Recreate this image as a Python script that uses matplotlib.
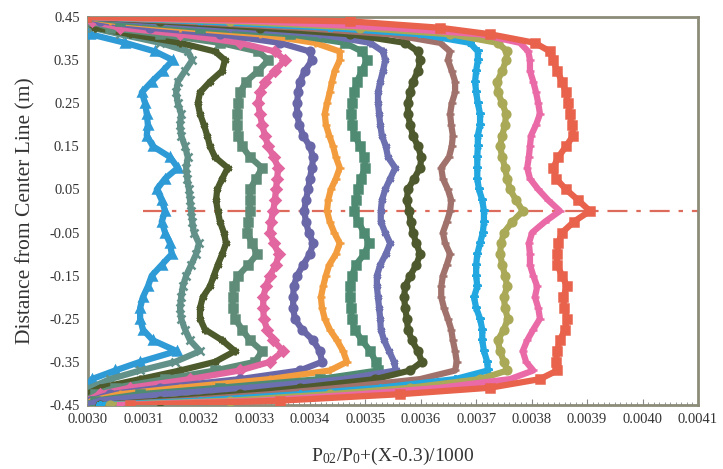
import matplotlib
matplotlib.use('Agg')
import matplotlib.pyplot as plt
import numpy as np

plt.rcParams['font.family'] = ['Liberation Serif', 'DejaVu Serif']
plt.rcParams['mathtext.fontset'] = 'custom'
plt.rcParams['mathtext.rm'] = 'Liberation Serif'
plt.rcParams['mathtext.it'] = 'Liberation Serif'

# measurement positions (m), shared by all traverses
y_pos = [0.45, 0.44, 0.425, 0.41, 0.39, 0.37,
         0.35, 0.325, 0.30, 0.275, 0.25, 0.225, 0.20, 0.175, 0.15, 0.125, 0.10, 0.075, 0.05, 0.025,
         0.0, -0.025, -0.05, -0.075, -0.10, -0.125, -0.15, -0.175, -0.20, -0.225, -0.25, -0.275,
         -0.30, -0.325, -0.35,
         -0.37, -0.39, -0.41, -0.425, -0.44, -0.45]

# P02/P0+(X-0.3)/1000 for each traverse, in units of 1e-6
p_blue_tri = [2997, 2997, 2998, 3004, 3067, 3121,
              3153, 3135, 3115, 3097, 3103, 3106, 3108, 3106, 3117, 3148, 3162, 3139, 3124, 3133,
              3139, 3133, 3139, 3148, 3151, 3133, 3115, 3108, 3099, 3094, 3094, 3099, 3117, 3160, 3094,
              3049, 3007, 2998, 2997, 2997, 2997]
p_grey_x = [2997, 2997, 3007, 3058, 3130, 3180,
            3188, 3175, 3162, 3159, 3162, 3168, 3166, 3168, 3175, 3180, 3177, 3179, 3182, 3184,
            3186, 3188, 3191, 3200, 3195, 3186, 3177, 3171, 3168, 3166, 3168, 3175, 3184, 3202, 3157,
            3094, 3040, 3004, 2997, 2997, 2997]
p_olive_ast = [2997, 2997, 3013, 3076, 3166, 3229,
               3247, 3242, 3220, 3202, 3198, 3202, 3209, 3215, 3220, 3229, 3252, 3242, 3233, 3231,
               3234, 3238, 3245, 3249, 3242, 3234, 3227, 3220, 3207, 3202, 3202, 3211, 3242, 3265, 3229,
               3166, 3094, 3022, 2997, 2997, 2997]
p_grey_sq = [2997, 3004, 3040, 3130, 3238, 3307,
             3325, 3307, 3285, 3274, 3271, 3269, 3269, 3271, 3278, 3292, 3314, 3303, 3292, 3292,
             3292, 3289, 3287, 3296, 3305, 3289, 3271, 3263, 3261, 3261, 3265, 3278, 3292, 3314, 3301,
             3229, 3139, 3049, 3013, 2997, 2997]
p_pink_dia = [2997, 3007, 3058, 3166, 3274, 3337,
              3355, 3337, 3319, 3310, 3307, 3310, 3314, 3319, 3325, 3335, 3343, 3341, 3339, 3337,
              3334, 3330, 3328, 3335, 3344, 3339, 3328, 3321, 3316, 3316, 3317, 3323, 3334, 3352, 3328,
              3274, 3184, 3076, 3022, 2997, 2997]
p_purple_o = [2997, 3022, 3112, 3238, 3346, 3400,
              3404, 3391, 3382, 3379, 3377, 3377, 3381, 3388, 3400, 3406, 3404, 3400, 3397, 3393,
              3390, 3393, 3398, 3406, 3400, 3388, 3377, 3371, 3370, 3370, 3373, 3386, 3406, 3418, 3422,
              3382, 3274, 3130, 3040, 3004, 2997]
p_orange_plus = [2997, 3040, 3166, 3310, 3409, 3454,
                 3454, 3445, 3440, 3436, 3431, 3427, 3429, 3435, 3442, 3447, 3454, 3447, 3438, 3433,
                 3431, 3436, 3444, 3454, 3447, 3435, 3429, 3424, 3420, 3422, 3427, 3436, 3449, 3460, 3467,
                 3436, 3328, 3166, 3058, 3007, 2997]
p_teal_sq = [2997, 3058, 3202, 3364, 3463, 3494,
             3503, 3494, 3485, 3480, 3476, 3474, 3476, 3481, 3491, 3498, 3500, 3492, 3487, 3483,
             3480, 3487, 3498, 3507, 3498, 3483, 3476, 3472, 3472, 3474, 3476, 3481, 3494, 3509, 3519,
             3523, 3418, 3238, 3094, 3013, 2997]
p_slate_ast = [2997, 3094, 3256, 3418, 3509, 3532,
               3536, 3532, 3527, 3523, 3523, 3525, 3527, 3530, 3537, 3541, 3554, 3545, 3536, 3530,
               3528, 3528, 3536, 3545, 3537, 3527, 3521, 3521, 3523, 3525, 3527, 3528, 3534, 3543, 3552,
               3555, 3463, 3292, 3139, 3022, 2997]
p_olive_o = [2997, 3130, 3310, 3472, 3572, 3595,
             3599, 3595, 3586, 3581, 3577, 3577, 3581, 3586, 3595, 3601, 3599, 3588, 3577, 3575,
             3579, 3582, 3586, 3592, 3599, 3592, 3581, 3572, 3570, 3572, 3575, 3577, 3584, 3595, 3602,
             3581, 3518, 3382, 3274, 3130, 3022]
p_brown = [2997, 3166, 3382, 3545, 3635, 3653,
           3649, 3656, 3662, 3662, 3656, 3653, 3655, 3658, 3656, 3651, 3637, 3640, 3649, 3655,
           3653, 3647, 3640, 3644, 3653, 3647, 3640, 3637, 3637, 3642, 3649, 3655, 3658, 3662, 3665,
           3662, 3599, 3454, 3328, 3166, 3022]
p_cyan_star = [2997, 3202, 3436, 3599, 3689, 3703,
               3703, 3700, 3698, 3700, 3703, 3707, 3707, 3703, 3703, 3702, 3702, 3702, 3705, 3711,
               3714, 3714, 3712, 3707, 3702, 3700, 3700, 3702, 3696, 3700, 3707, 3711, 3711, 3714, 3720,
               3721, 3662, 3527, 3382, 3202, 3022]
p_khaki = [2997, 3256, 3490, 3653, 3739, 3756,
           3754, 3747, 3738, 3739, 3747, 3754, 3752, 3747, 3743, 3747, 3752, 3756, 3761, 3772,
           3784, 3765, 3750, 3745, 3743, 3747, 3752, 3756, 3750, 3752, 3757, 3750, 3739, 3743, 3750,
           3756, 3707, 3581, 3436, 3256, 3040]
p_pink = [2997, 3310, 3544, 3707, 3779, 3794,
          3797, 3797, 3803, 3808, 3812, 3815, 3808, 3799, 3797, 3795, 3792, 3797, 3812, 3830,
          3851, 3824, 3801, 3795, 3797, 3797, 3803, 3810, 3806, 3812, 3815, 3803, 3792, 3784, 3790,
          3803, 3761, 3635, 3491, 3310, 3058]
p_red = [2997, 3472, 3635, 3725, 3806, 3833,
         3839, 3846, 3855, 3862, 3866, 3869, 3873, 3875, 3862, 3848, 3839, 3844, 3862, 3884,
         3905, 3876, 3855, 3848, 3846, 3846, 3855, 3864, 3857, 3859, 3864, 3860, 3851, 3846, 3844,
         3846, 3815, 3725, 3563, 3346, 3076]

profiles = [p_blue_tri, p_grey_x, p_olive_ast, p_grey_sq, p_pink_dia, p_purple_o, p_orange_plus,
            p_teal_sq, p_slate_ast, p_olive_o, p_brown, p_cyan_star, p_khaki, p_pink, p_red]
colors = ['#2e9ad6', '#62918a', '#4c5a2c', '#5f8c78', '#e2669f', '#6a67a8', '#f29c3e',
          '#4f8b73', '#6c70b0', '#4e5a2d', '#a1716b', '#22a7e0', '#a9a957', '#e96aa6', '#e8624c']
markers = ['^', 'x', (6, 2, 0), 's', 'D', 'o', '+', 's', (6, 2, 0), 'o', '_', '*', 'o', '_', 's']

# centre line
cl_x = [0.00310, 0.00410]
cl_y = [0.0, 0.0]

fig = plt.figure(figsize=(7.23, 4.69), dpi=100)
ax = fig.add_axes([0.1217, 0.1365, 0.8437, 0.8273])

y = np.array(y_pos)
for p, c, m in zip(profiles, colors, markers):
    x = np.array(p) * 1e-6
    ax.plot(x, y, color=c, lw=4.5, marker=m, ms=5.5, mew=1.8, mec=c, mfc=c, zorder=3,
            solid_joinstyle='round')

ax.plot(cl_x, cl_y, color='#dd6b5c', lw=1.6, dashes=(9, 4, 2, 4), zorder=2)

ax.set_xlim(0.0030, 0.0041)
ax.set_ylim(-0.45, 0.45)
ax.set_xticks(np.arange(0.0030, 0.00411, 0.0001))
ax.set_xticklabels(['%.4f' % v for v in np.arange(0.0030, 0.00411, 0.0001)])
ax.set_yticks(np.arange(-0.45, 0.451, 0.1))
ax.set_yticklabels(['%.2f' % v for v in np.arange(-0.45, 0.451, 0.1)])
ax.set_xticks(np.arange(0.0030, 0.00411, 0.00001), minor=True)
ax.tick_params(axis='x', which='both', direction='in', colors='#888888', labelcolor='#333333',
               labelsize=10.5, pad=6)
ax.tick_params(axis='x', which='major', length=4)
ax.tick_params(axis='x', which='minor', length=2)
ax.tick_params(axis='y', direction='in', length=0, labelsize=10.5, labelcolor='#333333', pad=6)

for s in ax.spines.values():
    s.set_color('#8c8c78')
    s.set_linewidth(2)

ax.set_xlabel(r'P$_{02}$/P$_0$+(X-0.3)/1000', fontsize=14, color='#333333', labelpad=14)
ax.set_ylabel('Distance from Center Line (m)', fontsize=15.5, color='#333333', labelpad=10)

fig.savefig('out.png', dpi=100)
